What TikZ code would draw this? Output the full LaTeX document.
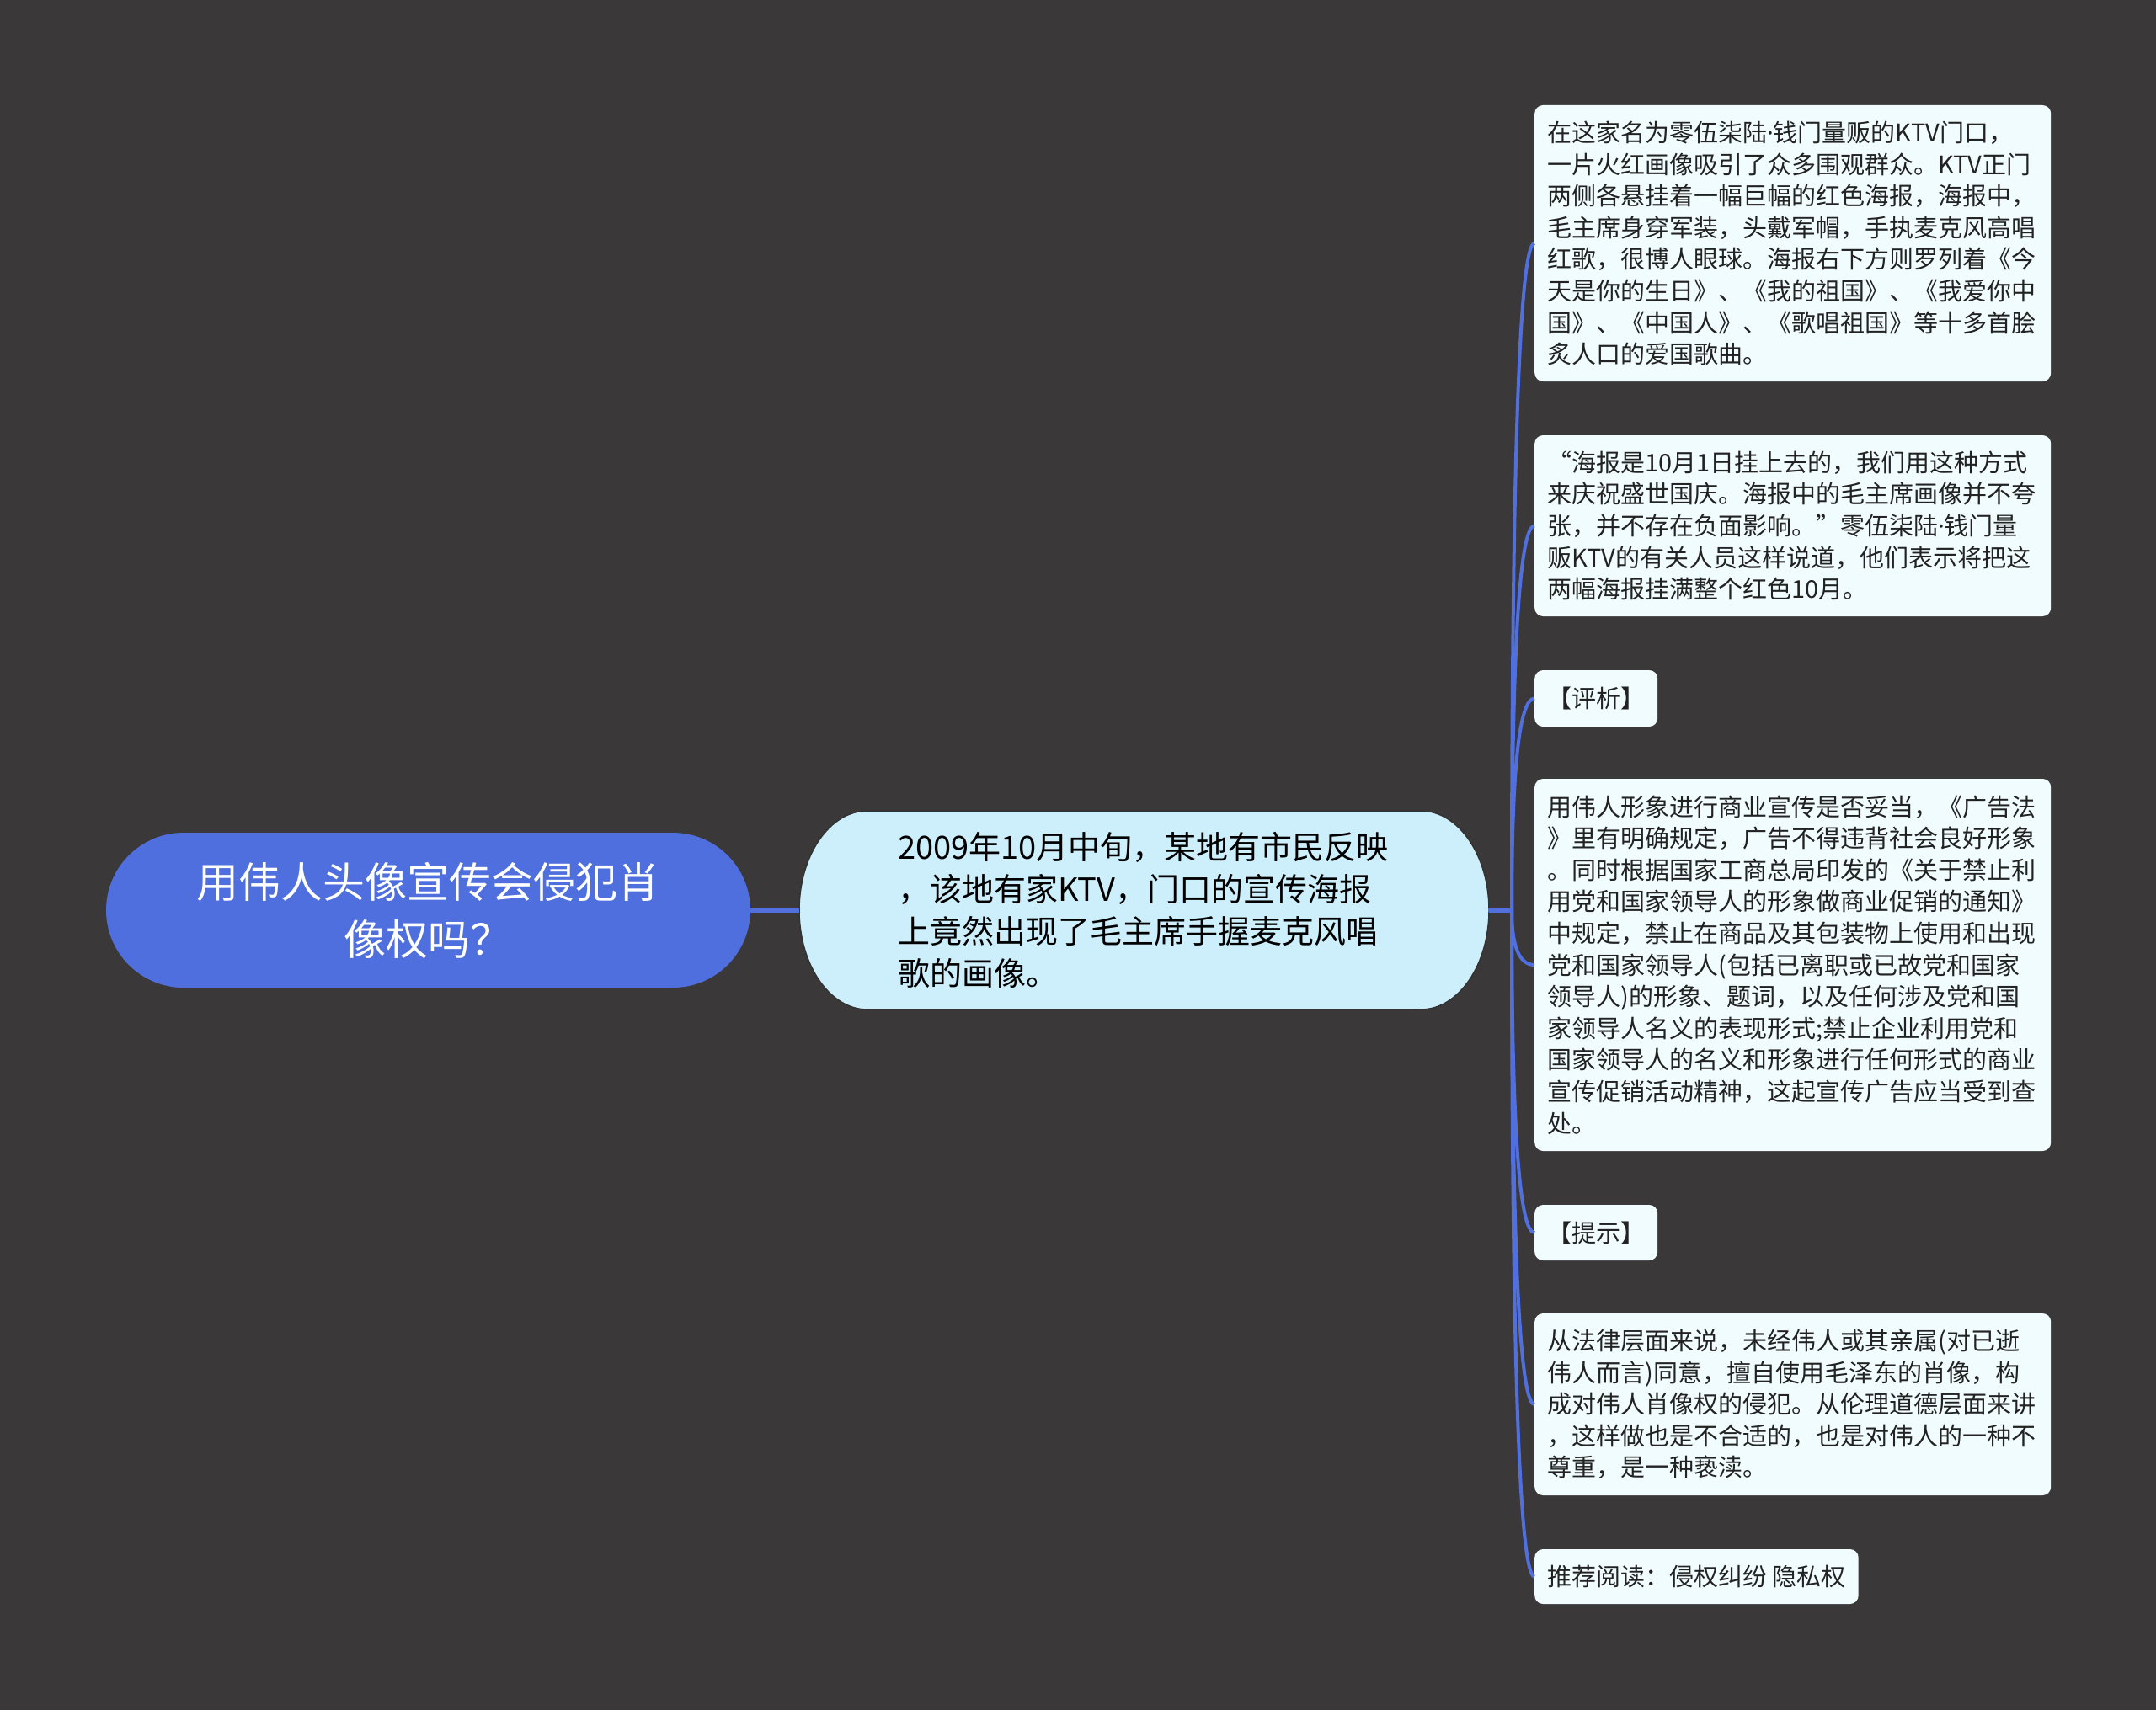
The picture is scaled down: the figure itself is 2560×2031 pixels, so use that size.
\documentclass[tikz,border=0pt]{standalone}
\usepackage{fontspec}
\setmainfont{Noto Sans CJK SC}
\newfontfamily\latinfont{Noto Sans}
\newcommand{\middot}{{\latinfont ·}}
\usetikzlibrary{calc}
\definecolor{bg}{HTML}{3A3839}
\definecolor{rootblue}{HTML}{4F6FDE}
\definecolor{ctrfill}{HTML}{CDEFFC}
\definecolor{leaffill}{HTML}{F1FCFE}
\definecolor{linkblue}{HTML}{5170DD}
\definecolor{leaftext}{HTML}{222222}
\tikzset{
  rootnode/.style={fill=rootblue, rounded corners=92, minimum width=765, minimum height=184,
    inner sep=0, text=white, align=center, font=\fontsize{50}{68}\selectfont},
  ctrnode/.style={minimum width=819, minimum height=236, inner sep=0, text width=585,
    align=left, text=black, font=\fontsize{38}{50}\selectfont},
  leaf/.style={fill=leaffill, rounded corners=10, anchor=west, inner xsep=15, inner ysep=0,
    align=left, text=leaftext, font=\fontsize{29}{37.6}\selectfont},
  bigleaf/.style={leaf, text width=583},
  link/.style={draw=linkblue, line width=4},
  mainlink/.style={draw=linkblue, line width=5}
}
\begin{document}
\begin{tikzpicture}[x=1pt,y=-1pt]
\fill[bg] (0,0) rectangle (2560,2031);
\useasboundingbox (0,0) rectangle (2560,2031);
% centre topic shape
\fill[ctrfill, draw=black!80, line width=1.5]
  (1030,963) -- (1687,963)
  .. controls (1731.7,963) and (1768,1015.8) .. (1768,1081)
  .. controls (1768,1146.2) and (1731.7,1199) .. (1687,1199)
  -- (1030,1199)
  .. controls (985.3,1199) and (949,1146.2) .. (949,1081)
  .. controls (949,1015.8) and (985.3,963) .. (1030,963) -- cycle;
\node[rootnode] (root) at (508.5,1081) {用伟人头像宣传会侵犯肖\\像权吗？};
\node[ctrnode] (ctr) at (1358.5,1081) {2009年10月中旬，某地有市民反映\\，该地有家KTV，门口的宣传海报\\上竟然出现了毛主席手握麦克风唱\\歌的画像。};
\coordinate (hub) at (1795,1081);

\node[bigleaf, minimum height=328] (b1) at (1822,289) {在这家名为零伍柒陆\middot 钱门量贩的KTV门口，\\一片火红画像吸引了众多围观群众。KTV正门\\两侧各悬挂着一幅巨幅的红色海报，海报中，\\毛主席身穿军装，头戴军帽，手执麦克风高唱\\红歌，很博人眼球。海报右下方则罗列着《今\\天是你的生日》、《我的祖国》、《我爱你中\\国》、《中国人》、《歌唱祖国》等十多首脍\\炙人口的爱国歌曲。};
\node[bigleaf, minimum height=215] (b2) at (1822,624.5) {“海报是10月1日挂上去的，我们用这种方式\\来庆祝盛世国庆。海报中的毛主席画像并不夸\\张，并不存在负面影响。”零伍柒陆\middot 钱门量\\贩KTV的有关人员这样说道，他们表示将把这\\两幅海报挂满整个红色10月。};
\node[leaf, minimum height=67] (b3) at (1822,829.5) {【评析】};
\node[bigleaf, minimum height=442] (b4) at (1822,1146) {用伟人形象进行商业宣传是否妥当，《广告法\\》里有明确规定，广告不得违背社会良好形象\\。同时根据国家工商总局印发的《关于禁止利\\用党和国家领导人的形象做商业促销的通知》\\中规定，禁止在商品及其包装物上使用和出现\\党和国家领导人(包括已离职或已故党和国家\\领导人)的形象、题词，以及任何涉及党和国\\家领导人名义的表现形式;禁止企业利用党和\\国家领导人的名义和形象进行任何形式的商业\\宣传促销活动精神，这起宣传广告应当受到查\\处。};
\node[leaf, minimum height=66] (b5) at (1822,1464) {【提示】};
\node[bigleaf, minimum height=216] (b6) at (1822,1668) {从法律层面来说，未经伟人或其亲属(对已逝\\伟人而言)同意，擅自使用毛泽东的肖像，构\\成对伟人肖像权的侵犯。从伦理道德层面来讲\\，这样做也是不合适的，也是对伟人的一种不\\尊重，是一种亵渎。};
\node[leaf, minimum height=65] (b7) at (1822,1872.5) {推荐阅读：侵权纠纷 隐私权};

\draw[mainlink] (root.east) -- (ctr.west);
\draw[mainlink] (ctr.east) -- (hub);
\foreach \n in {b1,b2,b3,b4,b5,b6,b7}{
  \draw[link] (hub) .. controls ($(hub)!0.667!(hub |- \n.west)$) and ($(\n.west)!0.667!(hub |- \n.west)$) .. (\n.west);
}
\end{tikzpicture}
\end{document}
